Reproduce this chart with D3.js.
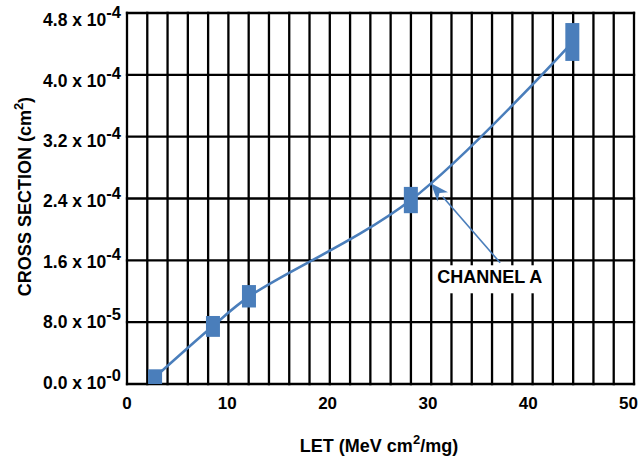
<!DOCTYPE html>
<html>
<head>
<meta charset="utf-8">
<script src="https://cdn.jsdelivr.net/npm/d3@7"></script>
<style>
  html, body { margin: 0; padding: 0; background: #fff; }
  svg { display: block; font-family: "Liberation Sans", Arial, sans-serif; font-weight: bold; }
</style>
</head>
<body>
<svg id="chart" width="639" height="460"></svg>
<script>
// ---- data ----
const letValues   = [2.8, 8.57, 12.16, 28.3, 44.4];            // LET (MeV cm2/mg)
const crossLow    = [0, 0.61e-4, 0.99e-4, 2.21e-4, 4.18e-4];   // lower edge of marker
const crossHigh   = [0.19e-4, 0.88e-4, 1.28e-4, 2.55e-4, 4.67e-4]; // upper edge of marker
const crossMean   = [0.09e-4, 0.75e-4, 1.13e-4, 2.38e-4, 4.42e-4]; // curve values
const xTickValues = [0, 10, 20, 30, 40, 50];
const yTickValues = [0, 0.8e-4, 1.6e-4, 2.4e-4, 3.2e-4, 4.0e-4, 4.8e-4];
const yTickMant   = ["0.0", "8.0", "1.6", "2.4", "3.2", "4.0", "4.8"];
const yTickExp    = ["-0", "-5", "-4", "-4", "-4", "-4", "-4"];
const seriesName  = "CHANNEL A";
const annTarget   = [30.3, 2.597e-4];   // arrow tip (LET, cross section)
const annTail     = [37.2, 1.569e-4];   // arrow tail
const annText     = [30.94, 1.303e-4];  // label baseline start

const svg = d3.select("#chart");
const blue = "#4a7ebb";

const x = d3.scaleLinear().domain([0, 50]).range([127, 628.5]);
const xGrid = d3.scaleLinear().domain([0, 25]).range([127, 634]);
const y = d3.scaleLinear().domain([0, 4.8e-4]).range([384, 13]);
const yLabel = d3.scaleLinear().domain([0, 4.8e-4]).range([388.5, 26.2]);

const [gx0, gx1] = xGrid.range();
const [gy0, gy1] = y.range();

// grid
const grid = svg.append("g").attr("stroke", "#000").attr("stroke-width", 2.3);
grid.selectAll("line.v").data(d3.range(0, 26)).join("line")
  .attr("class", "v")
  .attr("x1", d => xGrid(d)).attr("x2", d => xGrid(d))
  .attr("y1", gy1 - 1.15).attr("y2", gy0 + 1.15);
grid.selectAll("line.h").data(yTickValues).join("line")
  .attr("class", "h")
  .attr("x1", gx0 - 1.15).attr("x2", gx1 + 1.15)
  .attr("y1", d => y(d)).attr("y2", d => y(d));

// annotation background box (white behind text)
const tx = x(annText[0]), ty = y(annText[1]);
svg.append("rect")
  .attr("x", tx - 2).attr("y", ty - 18)
  .attr("width", 113).attr("height", 28)
  .attr("fill", "#fff");

// x tick labels
svg.append("g").selectAll("text").data(xTickValues).join("text")
  .attr("x", d => x(d)).attr("y", 409)
  .attr("text-anchor", "middle").attr("font-size", 17)
  .text(d => d);

// y tick labels
const yl = svg.append("g").selectAll("text").data(yTickValues).join("text")
  .attr("x", 121).attr("y", d => yLabel(d))
  .attr("text-anchor", "end").attr("font-size", 17.5);
yl.append("tspan").text((d, i) => yTickMant[i] + " x 10");
yl.append("tspan").attr("font-size", 16.5).attr("dy", -8).text((d, i) => yTickExp[i]);

// axis titles
const xt = svg.append("text").attr("x", 379).attr("y", 452)
  .attr("text-anchor", "middle").attr("font-size", 18);
xt.append("tspan").text("LET (MeV cm");
xt.append("tspan").attr("font-size", 13).attr("dy", -8).text("2");
xt.append("tspan").attr("dy", 8).text("/mg)");

const yt = svg.append("text").attr("transform", "translate(31,196.5) rotate(-90)")
  .attr("text-anchor", "middle").attr("font-size", 18);
yt.append("tspan").text("CROSS SECTION (cm");
yt.append("tspan").attr("font-size", 13).attr("dy", -8).text("2");
yt.append("tspan").attr("dy", 8).text(")");

// curve
const pts = letValues.map((v, i) => [v, crossMean[i]]);
svg.append("path")
  .attr("d", d3.line().x(d => x(d[0])).y(d => y(d[1])).curve(d3.curveCatmullRom.alpha(0.5))(pts))
  .attr("fill", "none").attr("stroke", blue).attr("stroke-width", 2.6);

// markers
svg.append("g").selectAll("rect").data(letValues).join("rect")
  .attr("x", d => x(d) - 7).attr("width", 14)
  .attr("y", (d, i) => y(crossHigh[i]))
  .attr("height", (d, i) => y(crossLow[i]) - y(crossHigh[i]))
  .attr("fill", blue);

// annotation arrow
const ax = x(annTarget[0]), ay = y(annTarget[1]);
const bx = x(annTail[0]), by = y(annTail[1]);
const ang = Math.atan2(by - ay, bx - ax);
const L = 18, W = 7;
const hx = ax + L * Math.cos(ang), hy = ay + L * Math.sin(ang);
svg.append("line").attr("x1", bx).attr("y1", by).attr("x2", hx).attr("y2", hy)
  .attr("stroke", blue).attr("stroke-width", 1.6);
svg.append("path")
  .attr("d", `M${ax},${ay}L${hx + W * Math.sin(ang)},${hy - W * Math.cos(ang)}L${ax + (L - 5) * Math.cos(ang)},${ay + (L - 5) * Math.sin(ang)}L${hx - W * Math.sin(ang)},${hy + W * Math.cos(ang)}Z`)
  .attr("fill", blue);

svg.append("text").attr("x", tx).attr("y", ty)
  .attr("font-size", 18).text(seriesName);
</script>
</body>
</html>
